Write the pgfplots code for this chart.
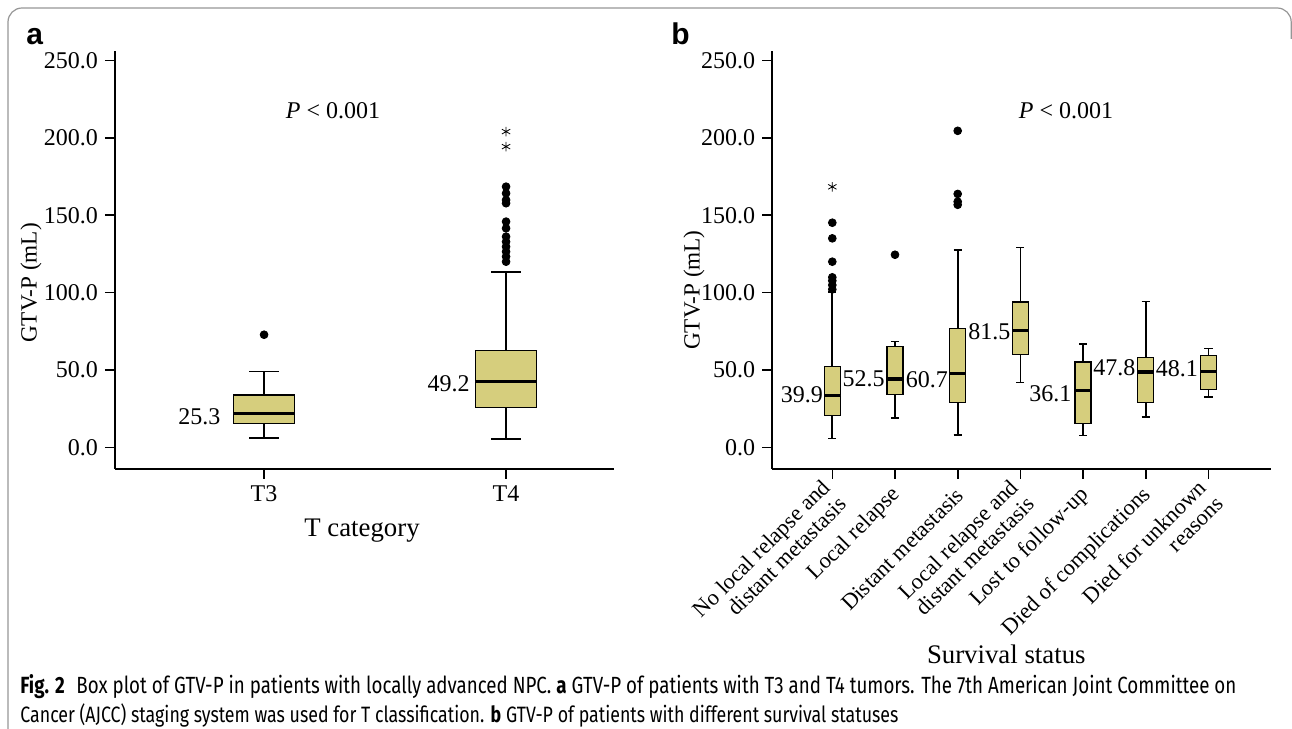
\documentclass[border=0pt]{standalone}
\usepackage{fontspec}
\setmainfont{Liberation Serif}
\newfontfamily\capfont[FakeStretch=0.8]{Fira Sans}
\newfontfamily\panelfont{Liberation Sans}
\usepackage{pgfplots}
\pgfplotsset{compat=1.18}
\usepgfplotslibrary{statistics}
\definecolor{boxfill}{RGB}{214,206,125}
\definecolor{framegray}{RGB}{150,150,150}

\pgfplotsset{
  panel/.style={
    scale only axis, height=209pt, ymin=-14, ymax=256.2,
    axis x line*=bottom, axis y line*=left,
    axis line style={line width=0.9pt, black},
    ytick={0,50,100,150,200,250},
    /pgf/number format/assume math mode=true,
    yticklabel style={/pgf/number format/fixed, /pgf/number format/precision=1, /pgf/number format/fixed zerofill},
    tick label style={font=\fontsize{12}{14}\selectfont},
    tick align=outside, major tick length=5pt,
    tick style={black, line width=0.8pt},
    clip=false,
    label style={font=\fontsize{13.4}{15}\selectfont},
    ylabel style={font=\fontsize{11.6}{13}\selectfont},
    boxplot/draw direction=y,
    boxplot/every median/.style={line width=1.6pt},
    boxplot/every whisker/.style={line width=0.85pt},
  },
  bx/.style={draw=black, line width=0.65pt, fill=boxfill, boxplot/draw direction=y},
  outl/.style={only marks, mark=*, mark size=1.95pt, black},
}

\begin{document}
\begin{tikzpicture}
\useasboundingbox (0,0) rectangle (646pt,364.5pt);
\draw[framegray, line width=0.6pt, rounded corners=7pt] (4pt,0pt) -- (4pt,360.5pt) -- (645.6pt,360.5pt) -- (645.6pt,345pt);

\node[anchor=base, inner sep=0, font=\panelfont\bfseries\fontsize{15}{17}\selectfont] at (17.35pt,342pt) {a};
\node[anchor=base, inner sep=0, font=\panelfont\bfseries\fontsize{15}{17}\selectfont] at (340.25pt,342pt) {b};

% ---------- panel a ----------
\begin{axis}[panel,
  at={(57.5pt,130pt)}, anchor=south west,
  width=249.5pt, xmin=-0.616, xmax=1.446,
  xtick={0,1}, xticklabels={T3,T4},
  xlabel={T category}, ylabel={GTV-P (mL)},
  xlabel style={at={(axis description cs:0.495,-0.148)}, anchor=center},
  ylabel style={at={(axis description cs:-0.168,0.445)}, anchor=center},
]
\addplot[bx, boxplot prepared={draw position=0, lower whisker=6.2, lower quartile=15.3, median=21.7, upper quartile=33.8, upper whisker=49.1, box extend=0.252, whisker extend=0.123}]
  coordinates {};
\addplot[bx, boxplot prepared={draw position=1, lower whisker=5.6, lower quartile=25.9, median=42.6, upper quartile=62.5, upper whisker=113.3, box extend=0.252, whisker extend=0.123}]
  coordinates {};
\addplot[outl] coordinates {(0,72.8) (1,120.0) (1,123.3) (1,126.5) (1,129.7) (1,132.9) (1,136.2) (1,141.6) (1,145.9) (1,157.8) (1,159.9) (1,164.2) (1,168.5)};
\addplot[only marks, mark=asterisk, mark size=2.4pt, black, line width=0.4pt] coordinates {(1,204.1) (1,194.4)};
\node[anchor=east, inner sep=0, font=\fontsize{12}{14}\selectfont] at (axis cs:-0.179,19.6) {25.3};
\node[anchor=east, inner sep=0, font=\fontsize{12}{14}\selectfont] at (axis cs:0.851,41.4) {49.2};
\node[font=\fontsize{12}{14}\selectfont] at (axis cs:0.285,217.4) {\textit{P} < 0.001};
\end{axis}

% ---------- panel b ----------
\begin{axis}[panel,
  at={(386.15pt,130pt)}, anchor=south west,
  width=249.45pt, xmin=-0.957, xmax=7.0,
  xtick={0,1,2,3,4,5,6},
  xticklabels={{No local relapse and\\distant metastasis},{Local relapse},{Distant metastasis},{Local relapse and\\distant metastasis},{Lost to follow-up},{Died of complications},{Died for unknown\\reasons}},
  xticklabel style={xshift=3.5pt, yshift=-4pt, rotate=45, anchor=east, align=right, font=\fontsize{11.2}{11.7}\selectfont},
  xlabel={Survival status}, ylabel={GTV-P (mL)},
  xlabel style={at={(axis description cs:0.469,-0.4426)}, anchor=center},
  ylabel style={at={(axis description cs:-0.157,0.428)}, anchor=center},
]
\addplot[bx, boxplot prepared={draw position=0, lower whisker=5.8, lower quartile=20.5, median=33.4, upper quartile=52.3, upper whisker=100.6, box extend=0.255, whisker extend=0.13}]
  coordinates {};
\addplot[bx, boxplot prepared={draw position=1, lower whisker=18.9, lower quartile=34.3, median=44.2, upper quartile=65.1, upper whisker=68.4, box extend=0.255, whisker extend=0.13}]
  coordinates {};
\addplot[bx, boxplot prepared={draw position=2, lower whisker=8.2, lower quartile=29.2, median=47.6, upper quartile=76.7, upper whisker=127.5, box extend=0.255, whisker extend=0.13}]
  coordinates {};
\addplot[bx, boxplot prepared={draw position=3, lower whisker=41.9, lower quartile=59.8, median=75.7, upper quartile=94.0, upper whisker=129.1, box extend=0.255, whisker extend=0.13}]
  coordinates {};
\addplot[bx, boxplot prepared={draw position=4, lower whisker=7.6, lower quartile=15.2, median=36.7, upper quartile=55.1, upper whisker=66.7, box extend=0.255, whisker extend=0.13}]
  coordinates {};
\addplot[bx, boxplot prepared={draw position=5, lower whisker=19.5, lower quartile=28.8, median=48.7, upper quartile=58.2, upper whisker=94.2, box extend=0.255, whisker extend=0.13}]
  coordinates {};
\addplot[bx, boxplot prepared={draw position=6, lower whisker=32.6, lower quartile=37.3, median=48.9, upper quartile=59.2, upper whisker=63.8, box extend=0.255, whisker extend=0.13}]
  coordinates {};
\addplot[outl] coordinates {(0,102.1) (0,104.9) (0,107.7) (0,109.9) (0,120.0) (0,135.1) (0,145.2) (1,124.5) (2,156.8) (2,158.8) (2,163.8) (2,204.6)};
\addplot[only marks, mark=asterisk, mark size=2.4pt, black, line width=0.4pt] coordinates {(0,168.4)};
\node[anchor=east, inner sep=0, font=\fontsize{12}{14}\selectfont] at (axis cs:-0.144,33.8) {39.9};
\node[anchor=east, inner sep=0, font=\fontsize{12}{14}\selectfont] at (axis cs:0.840,44.6) {52.5};
\node[anchor=east, inner sep=0, font=\fontsize{12}{14}\selectfont] at (axis cs:1.850,43.5) {60.7};
\node[anchor=east, inner sep=0, font=\fontsize{12}{14}\selectfont] at (axis cs:2.845,74.7) {81.5};
\node[anchor=east, inner sep=0, font=\fontsize{12}{14}\selectfont] at (axis cs:3.818,34.9) {36.1};
\node[anchor=east, inner sep=0, font=\fontsize{12}{14}\selectfont] at (axis cs:4.839,51.7) {47.8};
\node[anchor=east, inner sep=0, font=\fontsize{12}{14}\selectfont] at (axis cs:5.837,51.1) {48.1};
\node[font=\fontsize{12}{14}\selectfont] at (axis cs:3.727,217.4) {\textit{P} < 0.001};
\end{axis}

% ---------- caption ----------
\node[anchor=west, inner sep=0] at (10pt,21pt) {\resizebox{608pt}{!}{\capfont\fontsize{9}{11}\selectfont\textbf{Fig. 2}\enspace Box plot of GTV-P in patients with locally advanced NPC. \textbf{a} GTV-P of patients with T3 and T4 tumors. The 7th American Joint Committee on}};
\node[anchor=west, inner sep=0] at (10pt,7pt) {\resizebox{439pt}{!}{\capfont\fontsize{9}{11}\selectfont Cancer (AJCC) staging system was used for T classification. \textbf{b} GTV-P of patients with different survival statuses}};
\end{tikzpicture}
\end{document}
